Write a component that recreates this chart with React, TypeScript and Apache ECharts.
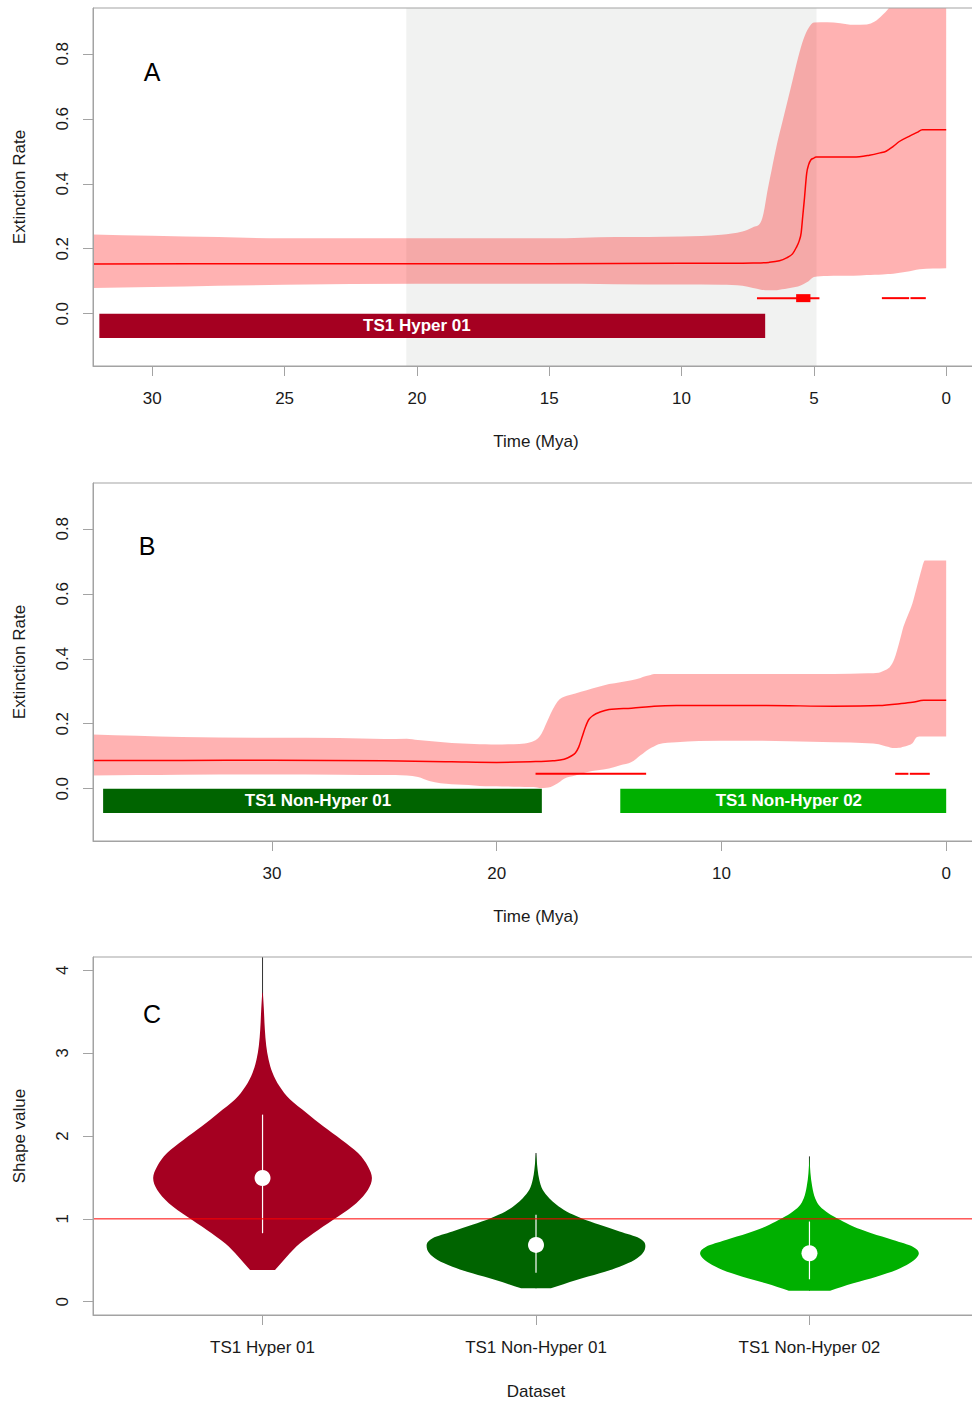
import React, { useEffect, useRef } from "react";
import * as echarts from "echarts";

// ---------- Panel A: TS1 Hyper 01 extinction rate (Mya) ----------
const A_BAND_TIME = [32.24, 30, 27.5, 25, 20, 15, 12.5, 10, 8.5, 7.7, 7.3, 7.0, 6.9, 6.75, 6.6, 6.4, 6.2, 6.0, 5.8, 5.6, 5.4, 5.2, 5.0, 4.5, 4.0, 3.5, 3.0, 2.7, 2.4, 2.2, 2.0, 1.5, 1.0, 0];
const A_UPPER = [0.244, 0.24, 0.236, 0.232, 0.232, 0.232, 0.236, 0.238, 0.243, 0.253, 0.266, 0.283, 0.31, 0.38, 0.441, 0.52, 0.587, 0.653, 0.72, 0.787, 0.843, 0.879, 0.896, 0.897, 0.894, 0.889, 0.89, 0.899, 0.92, 0.937, 0.96, 0.96, 0.96, 0.96];
const A_LOWER = [0.079, 0.082, 0.086, 0.089, 0.092, 0.092, 0.091, 0.09, 0.089, 0.086, 0.079, 0.074, 0.073, 0.072, 0.072, 0.072, 0.075, 0.078, 0.081, 0.084, 0.091, 0.1, 0.113, 0.116, 0.117, 0.117, 0.119, 0.12, 0.121, 0.122, 0.123, 0.129, 0.137, 0.14];
const A_MEAN_TIME = [32.24, 25, 20, 15, 10, 8, 7.3, 6.7, 6.3, 6.05, 5.8, 5.67, 5.55, 5.48, 5.42, 5.36, 5.27, 5.2, 5.11, 5.0, 4.92, 3.5, 2.9, 2.5, 2.27, 2.0, 1.77, 1.4, 1.1, 0.9, 0];
const A_MEAN = [0.153, 0.154, 0.154, 0.154, 0.155, 0.155, 0.156, 0.158, 0.163, 0.171, 0.185, 0.203, 0.225, 0.249, 0.3, 0.351, 0.433, 0.458, 0.474, 0.479, 0.482, 0.482, 0.488, 0.495, 0.5, 0.515, 0.53, 0.546, 0.558, 0.566, 0.566];
const A_SHIFT_WINDOW = [20.4, 4.9];
const A_SHIFT_LEVEL = 0.048;
const A_SHIFT_SPANS = [[7.15, 4.79], [2.43, 1.4], [1.35, 0.77]];
const A_SHIFT_CORE = [[5.67, 5.13]];
const A_BARS = [[32.0, 6.84]];
const A_BAR_NAMES = ["TS1 Hyper 01"];
const A_BAR_LABEL_AT = [20.0];
const A_TIME_TICKS = [0, 5, 10, 15, 20, 25, 30];

// ---------- Panel B: TS1 Non-Hyper extinction rate (Mya) ----------
const B_BAND_TIME = [37.96, 36, 34, 30, 27, 25, 24, 23.5, 23, 22.5, 22, 21.5, 21, 20.5, 20, 19.5, 19, 18.5, 18.2, 18.0, 17.8, 17.6, 17.4, 17.2, 17.0, 16.5, 16, 15, 14.5, 14, 13.6, 13.5, 13.2, 13, 12.8, 12, 11, 9, 7, 5, 3.5, 3, 2.7, 2.6, 2.5, 2.3, 2.1, 2.0, 1.9, 1.7, 1.5, 1.3, 1.1, 0.95, 0];
const B_UPPER = [0.167, 0.163, 0.159, 0.157, 0.156, 0.153, 0.154, 0.15, 0.147, 0.144, 0.141, 0.139, 0.138, 0.137, 0.136, 0.137, 0.138, 0.143, 0.153, 0.17, 0.2, 0.231, 0.257, 0.275, 0.283, 0.293, 0.303, 0.322, 0.328, 0.334, 0.341, 0.344, 0.349, 0.353, 0.353, 0.353, 0.353, 0.353, 0.353, 0.353, 0.355, 0.357, 0.365, 0.369, 0.375, 0.401, 0.447, 0.473, 0.499, 0.535, 0.571, 0.622, 0.674, 0.702, 0.702];
const B_LOWER = [0.041, 0.042, 0.043, 0.044, 0.043, 0.042, 0.041, 0.036, 0.024, 0.017, 0.014, 0.012, 0.01, 0.008, 0.008, 0.007, 0.006, 0.005, 0.004, 0.002, 0.003, 0.005, 0.012, 0.021, 0.031, 0.041, 0.051, 0.062, 0.072, 0.082, 0.103, 0.108, 0.123, 0.13, 0.137, 0.143, 0.147, 0.148, 0.146, 0.143, 0.14, 0.137, 0.131, 0.129, 0.127, 0.125, 0.126, 0.127, 0.129, 0.133, 0.14, 0.159, 0.161, 0.161, 0.161];
const B_MEAN_TIME = [37.96, 34, 30, 25, 22, 20, 18.5, 17.5, 17.0, 16.7, 16.5, 16.35, 16.2, 16.05, 15.9, 15.7, 15.4, 15, 14, 13, 12, 8, 5, 3, 2, 1.5, 1.0, 0];
const B_MEAN = [0.087, 0.087, 0.088, 0.086, 0.083, 0.081, 0.083, 0.086, 0.091, 0.1, 0.11, 0.128, 0.159, 0.19, 0.213, 0.226, 0.236, 0.244, 0.248, 0.254, 0.256, 0.256, 0.254, 0.256, 0.262, 0.266, 0.272, 0.272];
const B_SHIFT_LEVEL = 0.046;
const B_SHIFT_SPANS = [[18.27, 13.35], [2.27, 1.68], [1.62, 0.73]];
const B_BARS = [[37.51, 17.99], [14.5, 0]];
const B_BAR_NAMES = ["TS1 Non-Hyper 01", "TS1 Non-Hyper 02"];
const B_BAR_LABEL_AT = [27.95, 7.0];
const B_TIME_TICKS = [0, 10, 20, 30];

const RATE_TICKS = [0, 0.2, 0.4, 0.6, 0.8];

// ---------- Panel C: shape parameter per dataset ----------
const DATASETS = ["TS1 Hyper 01", "TS1 Non-Hyper 01", "TS1 Non-Hyper 02"];
const SHAPE_LEVELS = [
  [0.383, 0.544, 0.706, 0.867, 1.028, 1.19, 1.351, 1.493, 1.633, 1.795, 1.956, 2.117, 2.279, 2.44, 2.6, 2.763, 2.924, 3.085, 3.287, 3.53, 3.73],
  [0.162, 0.262, 0.343, 0.423, 0.504, 0.585, 0.674, 0.767, 0.847, 0.928, 1.008, 1.089, 1.17, 1.25, 1.351, 1.472, 1.593, 1.714, 1.795],
  [0.133, 0.222, 0.302, 0.383, 0.464, 0.525, 0.585, 0.665, 0.746, 0.827, 0.907, 0.988, 1.069, 1.149, 1.25, 1.391, 1.553, 1.754],
];
const SHAPE_DENSITY = [
  [0.114, 0.221, 0.343, 0.509, 0.691, 0.857, 0.964, 1, 0.964, 0.873, 0.721, 0.555, 0.403, 0.252, 0.155, 0.091, 0.055, 0.034, 0.021, 0.012, 0.003],
  [0.136, 0.37, 0.582, 0.764, 0.9, 0.975, 1, 0.945, 0.764, 0.582, 0.415, 0.279, 0.188, 0.121, 0.061, 0.03, 0.015, 0.006, 0],
  [0.189, 0.4, 0.612, 0.794, 0.915, 0.975, 1, 0.945, 0.764, 0.566, 0.4, 0.279, 0.173, 0.097, 0.052, 0.025, 0.009, 0],
];
const SHAPE_MEDIAN = [1.493, 0.686, 0.585];
const SHAPE_BOX = [[0.827, 2.258], [0.351, 1.049], [0.271, 0.968]];
const SHAPE_WHISKER = [[0.383, 4.4], [0.162, 1.795], [0.133, 1.754]];
const SHAPE_REFERENCE = 1;
const SHAPE_TICKS = [0, 1, 2, 3, 4];

// ---------- styling ----------
const FONT = '"Liberation Sans", Arial, Helvetica, sans-serif';
const TEXT = "#1a1a1a";
const AXIS = "#a3a3a3";
const RED = "#ff0000";
const BAND = "rgba(255, 0, 0, 0.3)";
const SHADE = "#f1f2f1";
const COLORS = ["#a50021", "#006400", "#00b000"];
const VIOLIN_HALF = 0.4;

const RATE_MIN = -0.1608;
const RATE_MAX = 0.9408;
const SHAPE_MIN = -0.16;
const SHAPE_MAX = 4.16;
const POS_MIN = 0.38;
const POS_MAX = 3.62;

// Monotone cubic (Fritsch–Carlson) Bezier segments through pixel points.
// With `alongY` the curve is treated as x = f(y) instead of y = f(x).
function curveSegments(pts: number[][], alongY = false): string {
  const n = pts.length;
  if (n < 2) return "";
  const X = pts.map((p) => (alongY ? p[1] : p[0]));
  const Y = pts.map((p) => (alongY ? p[0] : p[1]));
  const d: number[] = [];
  for (let k = 0; k < n - 1; k++) {
    const h = X[k + 1] - X[k];
    d.push(h === 0 ? 0 : (Y[k + 1] - Y[k]) / h);
  }
  const m: number[] = new Array(n);
  m[0] = d[0];
  m[n - 1] = d[n - 2];
  for (let k = 1; k < n - 1; k++) m[k] = d[k - 1] * d[k] <= 0 ? 0 : (d[k - 1] + d[k]) / 2;
  for (let k = 0; k < n - 1; k++) {
    if (d[k] === 0) {
      m[k] = 0;
      m[k + 1] = 0;
    } else {
      const a = m[k] / d[k];
      const b = m[k + 1] / d[k];
      const s = a * a + b * b;
      if (s > 9) {
        const t = 3 / Math.sqrt(s);
        m[k] = t * a * d[k];
        m[k + 1] = t * b * d[k];
      }
    }
  }
  const P = (x: number, y: number) => (alongY ? `${y.toFixed(2)} ${x.toFixed(2)}` : `${x.toFixed(2)} ${y.toFixed(2)}`);
  let out = "";
  for (let k = 0; k < n - 1; k++) {
    const h = X[k + 1] - X[k];
    out +=
      " C " +
      P(X[k] + h / 3, Y[k] + (m[k] * h) / 3) +
      " " +
      P(X[k + 1] - h / 3, Y[k + 1] - (m[k + 1] * h) / 3) +
      " " +
      P(X[k + 1], Y[k + 1]);
  }
  return out;
}

function rateAxis(gridIndex: number) {
  return {
    type: "value",
    gridIndex,
    min: RATE_MIN,
    max: RATE_MAX,
    z: 10,
    axisLine: { show: true, onZero: false, lineStyle: { color: AXIS, width: 1 } },
    axisTick: { show: true, length: 10, customValues: RATE_TICKS, lineStyle: { color: AXIS, width: 1 } },
    axisLabel: {
      customValues: RATE_TICKS,
      rotate: 90,
      margin: 22,
      color: TEXT,
      fontSize: 17,
      fontFamily: FONT,
      formatter: (v: number) => v.toFixed(1),
    },
    splitLine: { show: false },
  };
}

function timeAxis(gridIndex: number, min: number, max: number, ticks: number[]) {
  return {
    type: "value",
    gridIndex,
    min,
    max,
    inverse: true,
    z: 10,
    axisLine: { show: true, onZero: false, lineStyle: { color: AXIS, width: 1 } },
    axisTick: { show: true, length: 10, customValues: ticks, lineStyle: { color: AXIS, width: 1 } },
    axisLabel: { customValues: ticks, margin: 24, color: TEXT, fontSize: 17, fontFamily: FONT },
    splitLine: { show: false },
  };
}

function bandSeries(idx: number, times: number[], lower: number[], upper: number[]) {
  return {
    type: "custom",
    xAxisIndex: idx,
    yAxisIndex: idx,
    z: 2,
    silent: true,
    clip: true,
    data: [[times[0], lower[0]]],
    renderItem: (_p: any, api: any) => {
      const up = times.map((t, i) => api.coord([t, upper[i]]));
      const lo = times.map((t, i) => api.coord([t, lower[i]])).reverse();
      const d =
        `M ${up[0][0]} ${up[0][1]}` +
        curveSegments(up) +
        ` L ${lo[0][0]} ${lo[0][1]}` +
        curveSegments(lo) +
        " Z";
      return { type: "path", shape: { pathData: d }, style: { fill: BAND } };
    },
  };
}

function meanSeries(idx: number, times: number[], values: number[]) {
  return {
    type: "custom",
    xAxisIndex: idx,
    yAxisIndex: idx,
    z: 5,
    silent: true,
    clip: true,
    data: [[times[0], values[0]]],
    renderItem: (_p: any, api: any) => {
      const pts = times.map((t, i) => api.coord([t, values[i]]));
      const d = `M ${pts[0][0]} ${pts[0][1]}` + curveSegments(pts);
      return { type: "path", shape: { pathData: d }, style: { fill: "none", stroke: RED, lineWidth: 1.5 } };
    },
  };
}

function spanSeries(idx: number, spans: number[][], level: number) {
  return {
    type: "custom",
    xAxisIndex: idx,
    yAxisIndex: idx,
    z: 5,
    silent: true,
    clip: true,
    encode: { x: [0, 1] },
    data: spans,
    renderItem: (_p: any, api: any) => {
      const a = api.coord([api.value(0), level]);
      const b = api.coord([api.value(1), level]);
      return {
        type: "line",
        shape: { x1: a[0], y1: a[1], x2: b[0], y2: b[1] },
        style: { stroke: RED, lineWidth: 2 },
      };
    },
  };
}

function coreSeries(idx: number, spans: number[][], level: number) {
  return {
    type: "custom",
    xAxisIndex: idx,
    yAxisIndex: idx,
    z: 6,
    silent: true,
    clip: true,
    encode: { x: [0, 1] },
    data: spans,
    renderItem: (_p: any, api: any) => {
      const a = api.coord([api.value(0), level]);
      const b = api.coord([api.value(1), level]);
      return {
        type: "rect",
        shape: { x: Math.min(a[0], b[0]), y: a[1] - 4, width: Math.abs(b[0] - a[0]), height: 8 },
        style: { fill: RED },
      };
    },
  };
}

function barSeries(idx: number, bars: number[][], names: string[], labelAt: number[], colors: string[]) {
  return {
    type: "custom",
    xAxisIndex: idx,
    yAxisIndex: idx,
    z: 6,
    silent: true,
    clip: true,
    encode: { x: [0, 1] },
    data: bars,
    renderItem: (p: any, api: any) => {
      const i = p.dataIndex;
      const a = api.coord([api.value(0), 0]);
      const b = api.coord([api.value(1), -0.075]);
      const c = api.coord([labelAt[i], -0.0375]);
      return {
        type: "group",
        children: [
          {
            type: "rect",
            shape: { x: Math.min(a[0], b[0]), y: a[1], width: Math.abs(b[0] - a[0]), height: b[1] - a[1] },
            style: { fill: colors[i] },
          },
          {
            type: "text",
            x: c[0],
            y: c[1],
            style: {
              text: names[i],
              fill: "#ffffff",
              font: `bold 17px ${FONT}`,
              align: "center",
              verticalAlign: "middle",
            },
          },
        ],
      };
    },
  };
}

function buildOption() {
  const title = (text: string, x: number, y: number, rotate = false) => ({
    type: "text",
    x,
    y,
    rotation: rotate ? Math.PI / 2 : 0,
    z: 20,
    style: { text, fill: TEXT, font: `17px ${FONT}`, align: "center", verticalAlign: "middle" },
  });
  const letter = (text: string, x: number, y: number) => ({
    type: "text",
    x,
    y,
    z: 20,
    style: { text, fill: "#000", font: `25px ${FONT}`, align: "center", verticalAlign: "middle" },
  });

  return {
    animation: false,
    backgroundColor: "#ffffff",
    grid: [
      { left: 93, top: 8, width: 886, height: 358, show: true, borderColor: AXIS, borderWidth: 1, z: 10 },
      { left: 93, top: 483, width: 886, height: 358, show: true, borderColor: AXIS, borderWidth: 1, z: 10 },
      { left: 93, top: 957, width: 886, height: 358, show: true, borderColor: AXIS, borderWidth: 1, z: 10 },
    ],
    xAxis: [
      timeAxis(0, -1.24, 32.24, A_TIME_TICKS),
      timeAxis(1, -1.46, 37.96, B_TIME_TICKS),
      {
        type: "value",
        gridIndex: 2,
        min: POS_MIN,
        max: POS_MAX,
        z: 10,
        axisLine: { show: true, onZero: false, lineStyle: { color: AXIS, width: 1 } },
        axisTick: { show: true, length: 10, customValues: [1, 2, 3], lineStyle: { color: AXIS, width: 1 } },
        axisLabel: {
          customValues: [1, 2, 3],
          margin: 24,
          color: TEXT,
          fontSize: 17,
          fontFamily: FONT,
          formatter: (v: number) => DATASETS[Math.round(v) - 1] ?? "",
        },
        splitLine: { show: false },
      },
    ],
    yAxis: [
      rateAxis(0),
      rateAxis(1),
      {
        type: "value",
        gridIndex: 2,
        min: SHAPE_MIN,
        max: SHAPE_MAX,
        z: 10,
        axisLine: { show: true, onZero: false, lineStyle: { color: AXIS, width: 1 } },
        axisTick: { show: true, length: 10, customValues: SHAPE_TICKS, lineStyle: { color: AXIS, width: 1 } },
        axisLabel: { customValues: SHAPE_TICKS, rotate: 90, margin: 22, color: TEXT, fontSize: 17, fontFamily: FONT },
        splitLine: { show: false },
      },
    ],
    graphic: [
      title("Time (Mya)", 536, 441),
      title("Time (Mya)", 536, 916),
      title("Dataset", 536, 1391),
      title("Extinction Rate", 19, 187, true),
      title("Extinction Rate", 19, 662, true),
      title("Shape value", 19, 1136, true),
      letter("A", 152, 72),
      letter("B", 147, 546),
      letter("C", 152, 1014),
    ],
    series: [
      // Panel A
      {
        type: "custom",
        xAxisIndex: 0,
        yAxisIndex: 0,
        z: 1,
        silent: true,
        encode: { x: [0, 1] },
        data: [A_SHIFT_WINDOW],
        renderItem: (p: any, api: any) => {
          const a = api.coord([api.value(0), 0]);
          const b = api.coord([api.value(1), 0]);
          const cs = p.coordSys;
          return {
            type: "rect",
            shape: { x: Math.min(a[0], b[0]), y: cs.y, width: Math.abs(b[0] - a[0]), height: cs.height },
            style: { fill: SHADE },
          };
        },
      },
      bandSeries(0, A_BAND_TIME, A_LOWER, A_UPPER),
      meanSeries(0, A_MEAN_TIME, A_MEAN),
      spanSeries(0, A_SHIFT_SPANS, A_SHIFT_LEVEL),
      coreSeries(0, A_SHIFT_CORE, A_SHIFT_LEVEL),
      barSeries(0, A_BARS, A_BAR_NAMES, A_BAR_LABEL_AT, [COLORS[0]]),
      // Panel B
      bandSeries(1, B_BAND_TIME, B_LOWER, B_UPPER),
      meanSeries(1, B_MEAN_TIME, B_MEAN),
      spanSeries(1, B_SHIFT_SPANS, B_SHIFT_LEVEL),
      barSeries(1, B_BARS, B_BAR_NAMES, B_BAR_LABEL_AT, [COLORS[1], COLORS[2]]),
      // Panel C
      {
        type: "custom",
        xAxisIndex: 2,
        yAxisIndex: 2,
        z: 3,
        silent: true,
        clip: true,
        data: DATASETS.map((_, i) => [i + 1, SHAPE_MEDIAN[i]]),
        renderItem: (p: any, api: any) => {
          const i = p.dataIndex;
          const pos = i + 1;
          const lv = SHAPE_LEVELS[i];
          const dn = SHAPE_DENSITY[i];
          const right = lv.map((v, k) => api.coord([pos + dn[k] * VIOLIN_HALF, v]));
          const left = lv.map((v, k) => api.coord([pos - dn[k] * VIOLIN_HALF, v])).reverse();
          const outline =
            `M ${right[0][0]} ${right[0][1]}` +
            curveSegments(right, true) +
            ` L ${left[0][0]} ${left[0][1]}` +
            curveSegments(left, true) +
            " Z";
          const w0 = api.coord([pos, SHAPE_WHISKER[i][0]]);
          const w1 = api.coord([pos, SHAPE_WHISKER[i][1]]);
          const b0 = api.coord([pos, SHAPE_BOX[i][0]]);
          const b1 = api.coord([pos, SHAPE_BOX[i][1]]);
          const m = api.coord([pos, SHAPE_MEDIAN[i]]);
          return {
            type: "group",
            children: [
              { type: "line", shape: { x1: w0[0], y1: w0[1], x2: w1[0], y2: w1[1] }, style: { stroke: "#333333", lineWidth: 1 } },
              { type: "path", shape: { pathData: outline }, style: { fill: COLORS[i] } },
              { type: "line", shape: { x1: b0[0], y1: b0[1], x2: b1[0], y2: b1[1] }, style: { stroke: "#ffffff", lineWidth: 1.2 } },
              { type: "circle", shape: { cx: m[0], cy: m[1], r: 8 }, style: { fill: "#ffffff" } },
            ],
          };
        },
      },
      {
        type: "line",
        xAxisIndex: 2,
        yAxisIndex: 2,
        z: 8,
        silent: true,
        symbol: "none",
        showSymbol: false,
        lineStyle: { color: RED, width: 1 },
        data: [
          [POS_MIN, SHAPE_REFERENCE],
          [POS_MAX, SHAPE_REFERENCE],
        ],
      },
    ],
  };
}

export default function App() {
  const ref = useRef<HTMLDivElement>(null);
  useEffect(() => {
    if (!ref.current) return;
    const chart = echarts.init(ref.current, undefined, { renderer: "svg" });
    chart.setOption(buildOption() as any);
    return () => chart.dispose();
  }, []);
  return (
    <div
      style={{
        position: "absolute",
        left: 0,
        top: 0,
        width: 972,
        height: 1401,
        overflow: "hidden",
        background: "#ffffff",
      }}
    >
      <div ref={ref} style={{ width: 990, height: 1401 }} />
    </div>
  );
}
